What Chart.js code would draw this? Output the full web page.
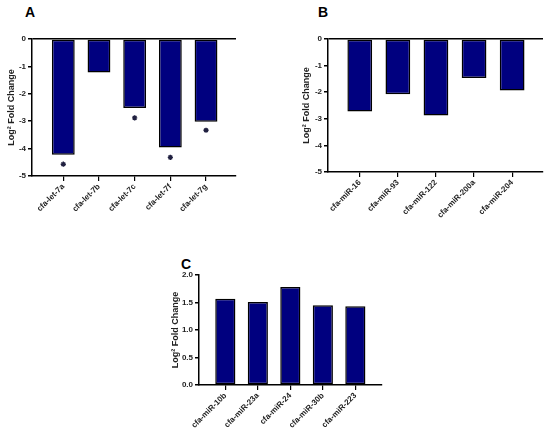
<!DOCTYPE html>
<html>
<head>
<meta charset="utf-8">
<script src="https://cdn.jsdelivr.net/npm/chart.js@4.4.0/dist/chart.umd.min.js"></script>
<style>
  html,body{margin:0;padding:0;background:#fff;width:550px;height:431px;overflow:hidden;}
  canvas{position:absolute;}
  .lbl{position:absolute;font-family:"Liberation Sans",Arial,sans-serif;font-weight:bold;font-size:14px;color:#000;line-height:14px;}
</style>
</head>
<body>
<div class="lbl" style="left:25px;top:5px;">A</div>
<div class="lbl" style="left:318px;top:5px;">B</div>
<div class="lbl" style="left:181px;top:257px;">C</div>
<canvas id="cA" width="275" height="225" style="left:0;top:0;"></canvas>
<canvas id="cB" width="275" height="232" style="left:275px;top:0;"></canvas>
<canvas id="cC" width="250" height="191" style="left:150px;top:240px;"></canvas>
<script>
const aCats = ['cfa-let-7a','cfa-let-7b','cfa-let-7c','cfa-let-7f','cfa-let-7g'];
const aVals = [-4.22,-1.22,-2.52,-3.96,-3.02];
const aStars = [-4.57,null,-2.88,-4.32,-3.33];
const aTicks = [0,-1,-2,-3,-4,-5];

const bCats = ['cfa-miR-16','cfa-miR-93','cfa-miR-122','cfa-miR-200a','cfa-miR-204'];
const bVals = [-2.73,-2.08,-2.88,-1.47,-1.94];
const bTicks = [0,-1,-2,-3,-4,-5];

const cCats = ['cfa-miR-10b','cfa-miR-23a','cfa-miR-24','cfa-miR-30b','cfa-miR-223'];
const cVals = [1.57,1.51,1.78,1.45,1.43];
const cTicks = [0.0,0.5,1.0,1.5,2.0];

const yTitle = 'Log\u00B2 Fold Change';
const FONT = '"Liberation Sans", Arial, sans-serif';

function makeChart(id, cats, vals, stars, ticks, o) {
  const datasets = [{
    type: 'bar',
    data: vals.map((v, i) => ({x: i + 1, y: v})),
    backgroundColor: '#00007f',
    borderColor: '#000',
    borderWidth: 1.5,
    borderSkipped: false,
    barPercentage: o.barPct,
    categoryPercentage: 1,
    order: 2
  }];
  if (stars) {
    datasets.push({
      type: 'line',
      showLine: false,
      data: stars.map((v, i) => ({x: i + 1, y: v})).filter(p => p.y !== null),
      pointStyle: 'star',
      pointRadius: 2.6,
      pointBorderWidth: 1.4,
      pointBorderColor: '#202040',
      pointBackgroundColor: '#202040',
      order: 1
    });
  }
  return new Chart(document.getElementById(id), {
    type: 'bar',
    data: {datasets},
    options: {
      responsive: false,
      animation: false,
      devicePixelRatio: 1,
      layout: {padding: o.pad},
      plugins: {legend: {display: false}, tooltip: {enabled: false}},
      scales: {
        x: {
          type: 'linear',
          offset: false,
          min: o.xmin, max: o.xmax,
          afterBuildTicks: s => { s.ticks = cats.map((c, i) => ({value: i + 1})); },
          afterFit: s => { s.height = o.xh; },
          grid: {display: true, offset: false, drawOnChartArea: false, drawTicks: true, tickLength: 5, color: '#000', lineWidth: 1.2},
          border: {display: true, color: '#000', width: 1.5},
          ticks: {
            autoSkip: false, minRotation: 45, maxRotation: 45, padding: 1,
            color: '#222', font: {family: FONT, size: 8, weight: 'bold'},
            callback: v => cats[Math.round(v) - 1]
          }
        },
        y: {
          min: o.ymin, max: o.ymax,
          afterBuildTicks: s => { s.ticks = ticks.map(v => ({value: v})); },
          afterFit: s => { s.width = o.yw; },
          grid: {
            display: true, drawOnChartArea: true, drawTicks: true, tickLength: 4,
            tickColor: '#000', lineWidth: 1.5,
            color: c => (o.zeroLine && c.tick && c.tick.value === 0) ? '#000' : 'rgba(0,0,0,0)'
          },
          border: {display: true, color: '#000', width: 1.5},
          ticks: {
            padding: 2, color: '#222', font: {family: FONT, size: 8, weight: 'bold'},
            callback: v => o.dec ? Number(v).toFixed(1) : String(v)
          },
          title: {
            display: true, text: yTitle, color: '#222',
            font: {family: FONT, size: 9, weight: 'bold'},
            padding: {top: o.titlePad, bottom: 0}
          }
        }
      }
    }
  });
}

makeChart('cA', aCats, aVals, aStars, aTicks, {
  pad: {left: 0, top: 39, right: 39, bottom: 225 - 176 - 44},
  xh: 44, yw: 32, xmin: 0.123, xmax: 5.84, ymin: -5, ymax: 0,
  barPct: 0.64, zeroLine: true, dec: false, titlePad: 6.5
});
makeChart('cB', bCats, bVals, null, bTicks, {
  pad: {left: 20, top: 39, right: 7, bottom: 232 - 172 - 52},
  xh: 52, yw: 33, xmin: 0.166, xmax: 5.81, ymin: -5, ymax: 0,
  barPct: 0.65, zeroLine: true, dec: false, titlePad: 6.5
});
makeChart('cC', cCats, cVals, null, cTicks, {
  pad: {left: 16, top: 35, right: 18, bottom: 191 - 145 - 46},
  xh: 46, yw: 33, xmin: 0.19, xmax: 5.82, ymin: 0, ymax: 2,
  barPct: 0.62, zeroLine: false, dec: true, titlePad: 4
});
</script>
</body>
</html>
